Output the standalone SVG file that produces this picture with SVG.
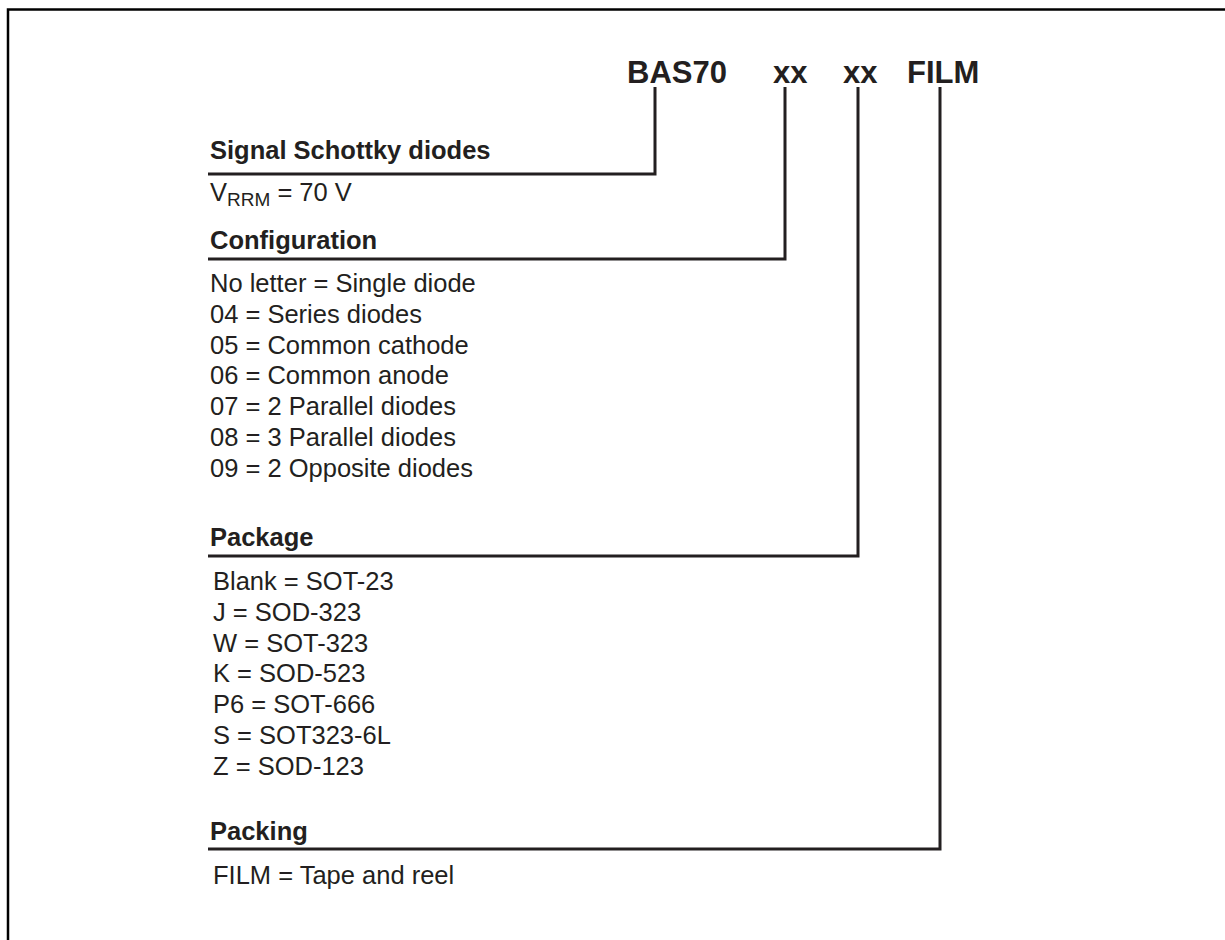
<svg xmlns="http://www.w3.org/2000/svg" width="1225" height="940" viewBox="0 0 1225 940">
<style>
.frame{fill:none;stroke:#000;stroke-width:2.5}
.ln{fill:none;stroke:#231f20;stroke-width:3}
.title{font-family:"Liberation Sans",Arial,sans-serif;font-weight:bold;font-size:31px;fill:#231f20}
.head{font-family:"Liberation Sans",Arial,sans-serif;font-weight:bold;font-size:25.5px;fill:#231f20}
.body{font-family:"Liberation Sans",Arial,sans-serif;font-size:25.5px;fill:#231f20}
</style>
<rect x="0" y="0" width="1225" height="940" fill="#fff"/>
<path class="frame" d="M8,945 V9.5 H1230"/>
<g id="title">
<text class="title" x="627" y="83">BAS70</text>
<text class="title" x="773" y="83">xx</text>
<text class="title" x="843" y="83">xx</text>
<text class="title" x="907" y="83">FILM</text>
</g>
<g id="connectors">
<path class="ln" d="M655,87 V174 H208"/>
<path class="ln" d="M785,87 V259 H208"/>
<path class="ln" d="M858,87 V556 H208"/>
<path class="ln" d="M940,87 V849 H208"/>
</g>
<g id="signal">
<text class="head" x="210" y="159">Signal Schottky diodes</text>
<text class="body" x="210" y="201">V<tspan font-size="19" dy="5">RRM</tspan><tspan dy="-5"> = 70 V</tspan></text>
</g>
<g id="configuration">
<text class="head" x="210" y="249">Configuration</text>
<text class="body" x="210" y="292">No letter = Single diode</text>
<text class="body" x="210" y="322.8">04 = Series diodes</text>
<text class="body" x="210" y="353.6">05 = Common cathode</text>
<text class="body" x="210" y="384.4">06 = Common anode</text>
<text class="body" x="210" y="415.2">07 = 2 Parallel diodes</text>
<text class="body" x="210" y="446">08 = 3 Parallel diodes</text>
<text class="body" x="210" y="476.8">09 = 2 Opposite diodes</text>
</g>
<g id="package">
<text class="head" x="210" y="546">Package</text>
<text class="body" x="213" y="590">Blank = SOT-23</text>
<text class="body" x="213" y="620.8">J = SOD-323</text>
<text class="body" x="213" y="651.6">W = SOT-323</text>
<text class="body" x="213" y="682.4">K = SOD-523</text>
<text class="body" x="213" y="713.2">P6 = SOT-666</text>
<text class="body" x="213" y="744">S = SOT323-6L</text>
<text class="body" x="213" y="774.8">Z = SOD-123</text>
</g>
<g id="packing">
<text class="head" x="210" y="840">Packing</text>
<text class="body" x="213" y="884">FILM = Tape and reel</text>
</g>
</svg>
